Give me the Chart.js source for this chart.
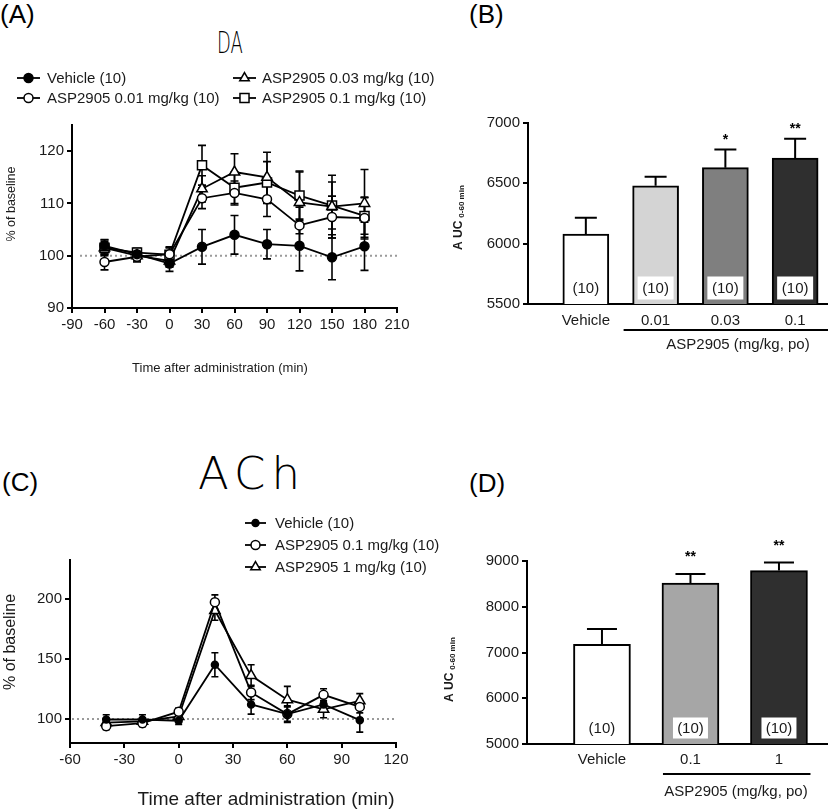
<!DOCTYPE html>
<html><head><meta charset="utf-8">
<script src="https://cdn.jsdelivr.net/npm/chart.js@4.4.1/dist/chart.umd.min.js"></script>
<style>
html,body{margin:0;padding:0;background:#fff;width:828px;height:809px;overflow:hidden;position:relative}
canvas{position:absolute;left:0;top:0}
.lbl{position:absolute;font-family:"Liberation Sans",Arial,sans-serif;font-size:26px;color:#000;line-height:26px;white-space:nowrap}
.hand{position:absolute;font-family:"DejaVu Sans",sans-serif;font-weight:200;color:#000;white-space:nowrap;transform-origin:left top}
</style></head><body>
<div class="lbl" style="left:0;top:1px">(A)</div>
<div class="lbl" style="left:469px;top:1px">(B)</div>
<div class="lbl" style="left:2px;top:469px">(C)</div>
<div class="lbl" style="left:469px;top:470px">(D)</div>
<div class="hand" style="left:217px;top:28px;font-size:30px;line-height:30px;transform:scaleX(0.6)">DA</div>
<div class="hand" style="left:198px;top:451px;font-size:45px;line-height:45px;letter-spacing:6px">ACh</div>
<canvas id="cA" width="828" height="809"></canvas>
<canvas id="cB" width="828" height="809"></canvas>
<canvas id="cC" width="828" height="809"></canvas>
<canvas id="cD" width="828" height="809"></canvas>
<script>
// ---------- Panel A (DA) ----------
const timesA = [-60, -30, 0, 30, 60, 90, 120, 150, 180];
const vehA   = [101.9, 100.3, 98.5, 101.7, 104.0, 102.2, 101.9, 99.7, 101.8];
const vehAErr= [1.2, 1.0, 1.5, 3.3, 3.7, 2.8, 4.8, 4.3, 4.6];
const d001A  = [98.8, 99.8, 100.3, 111.0, 112.0, 110.8, 105.8, 107.4, 107.2];
const d001AErr=[1.5, 1.0, 1.2, 2.0, 2.3, 3.3, 3.5, 4.0, 4.0];
const d003A  = [101.5, 100.0, 99.0, 112.8, 116.0, 115.0, 110.2, 109.4, 110.0];
const d003AErr=[1.2, 1.0, 1.2, 2.5, 3.5, 4.8, 6.0, 6.0, 6.5];
const d01A   = [101.5, 100.6, 100.2, 117.3, 113.0, 114.0, 111.5, 109.6, 107.6];
const d01AErr= [1.5, 0.8, 1.5, 3.8, 3.0, 4.0, 4.5, 4.5, 3.5];
const xTicksA = [-90, -60, -30, 0, 30, 60, 90, 120, 150, 180, 210];
const yTicksA = [90, 100, 110, 120];
const legendA = ['Vehicle (10)', 'ASP2905 0.01 mg/kg (10)', 'ASP2905 0.03 mg/kg (10)', 'ASP2905 0.1 mg/kg (10)'];

// ---------- Panel B (DA AUC) ----------
const groupsB = ['Vehicle', '0.01', '0.03', '0.1'];
const aucB    = [6080, 6480, 6630, 6710];
const aucBErr = [135, 75, 150, 160];
const nB      = ['(10)', '(10)', '(10)', '(10)'];
const starsB  = ['', '', '*', '**'];
const yTicksB = [5500, 6000, 6500, 7000];

// ---------- Panel C (ACh) ----------
const timesC = [-40, -20, 0, 20, 40, 60, 80, 100];
const vehC    = [99.5, 99.5, 98.5, 145, 112, 104, 112, 99];
const vehCErr = [4, 4, 3, 10, 8, 7, 5, 10];
const d01C    = [94, 96.5, 106, 197, 122, 104, 120, 110];
const d01CErr = [3, 3, 3, 6, 6, 6, 5, 5];
const d1C     = [97, 98, 102, 190, 136, 116, 108, 115];
const d1CErr  = [3, 3, 3, 8, 9, 11, 7, 6];
const xTicksC = [-60, -30, 0, 30, 60, 90, 120];
const yTicksC = [100, 150, 200];
const legendC = ['Vehicle (10)', 'ASP2905 0.1 mg/kg (10)', 'ASP2905 1 mg/kg (10)'];

// ---------- Panel D (ACh AUC) ----------
const groupsD = ['Vehicle', '0.1', '1'];
const aucD    = [7180, 8520, 8790];
const aucDErr = [335, 195, 175];
const nD      = ['(10)', '(10)', '(10)'];
const starsD  = ['', '**', '**'];
const yTicksD = [5000, 6000, 7000, 8000, 9000];

const groupTitle = 'ASP2905 (mg/kg, po)';
const FONT = '"Liberation Sans", Arial, sans-serif';
const W = 828, H = 809;

function marker(ctx, style, x, y, r, fill) {
  ctx.save();
  ctx.beginPath();
  if (style === 'circle') ctx.arc(x, y, r, 0, Math.PI * 2);
  else if (style === 'rect') { const s = r * Math.SQRT1_2; ctx.rect(x - s, y - s, 2 * s, 2 * s); }
  else if (style === 'triangle') {
    let a = 0;
    ctx.moveTo(x + Math.sin(a) * r, y - Math.cos(a) * r); a += 2 * Math.PI / 3;
    ctx.lineTo(x + Math.sin(a) * r, y - Math.cos(a) * r); a += 2 * Math.PI / 3;
    ctx.lineTo(x + Math.sin(a) * r, y - Math.cos(a) * r);
    ctx.closePath();
  }
  ctx.fillStyle = fill; ctx.fill();
  ctx.lineWidth = 1.5; ctx.strokeStyle = '#000'; ctx.stroke();
  ctx.restore();
}

function axis(vals, min, max, fit, fontSize) {
  return {
    type: 'linear', min: min, max: max, offset: false,
    afterBuildTicks: s => { s.ticks = vals.map(v => ({ value: v })); },
    afterFit: fit,
    border: { display: true, color: '#000', width: 2 },
    grid: { display: true, drawOnChartArea: false, drawTicks: true, tickLength: 5, color: '#000', lineWidth: 2 },
    ticks: { color: '#1a1a1a', font: { family: FONT, size: fontSize }, padding: 3, autoSkip: false, maxRotation: 0,
             callback: v => String(v) }
  };
}

function lineDs(times, vals, style, fill, r) {
  return {
    data: times.map((t, i) => ({ x: t, y: vals[i] })),
    borderColor: '#000', borderWidth: 1.8, tension: 0,
    pointStyle: style, pointRadius: r, pointBackgroundColor: fill,
    pointBorderColor: '#000', pointBorderWidth: 1.5
  };
}

function linePlugin(cfg) {
  return {
    id: 'lp',
    beforeDatasetsDraw(chart) {
      const ctx = chart.ctx, xs = chart.scales.x, ys = chart.scales.y, ca = chart.chartArea;
      ctx.save();
      ctx.strokeStyle = '#9a9a9a'; ctx.lineWidth = 2; ctx.setLineDash([2, 3]);
      const yb = ys.getPixelForValue(100);
      ctx.beginPath(); ctx.moveTo(ca.left + cfg.dotStart, yb); ctx.lineTo(ca.right, yb); ctx.stroke();
      ctx.restore();
      ctx.save(); ctx.strokeStyle = '#000'; ctx.lineWidth = 1.6;
      chart.data.datasets.forEach((d, di) => {
        const errs = cfg.errs[di];
        d.data.forEach((p, i) => {
          const x = xs.getPixelForValue(p.x);
          const y1 = ys.getPixelForValue(p.y + errs[i]), y2 = ys.getPixelForValue(p.y - errs[i]);
          ctx.beginPath();
          ctx.moveTo(x, y1); ctx.lineTo(x, y2);
          ctx.moveTo(x - cfg.cap / 2, y1); ctx.lineTo(x + cfg.cap / 2, y1);
          ctx.moveTo(x - cfg.cap / 2, y2); ctx.lineTo(x + cfg.cap / 2, y2);
          ctx.stroke();
        });
      });
      ctx.restore();
    },
    afterDraw(chart) {
      const ctx = chart.ctx;
      ctx.save();
      ctx.fillStyle = '#1a1a1a';
      ctx.font = cfg.legendFont + 'px ' + FONT;
      ctx.textBaseline = 'middle'; ctx.textAlign = 'left';
      cfg.legend.forEach(it => {
        ctx.strokeStyle = '#000'; ctx.lineWidth = 1.8;
        ctx.beginPath(); ctx.moveTo(it.x0, it.y); ctx.lineTo(it.x1, it.y); ctx.stroke();
        marker(ctx, it.style, (it.x0 + it.x1) / 2, it.y, it.r, it.fill);
        ctx.fillStyle = '#1a1a1a';
        ctx.fillText(it.text, it.tx, it.y + 1);
      });
      ctx.textAlign = 'center';
      ctx.font = cfg.xTitleFont + 'px ' + FONT;
      ctx.fillText('Time after administration (min)', cfg.xTitleX, cfg.xTitleY);
      ctx.translate(cfg.yTitleX, cfg.yTitleY); ctx.rotate(-Math.PI / 2);
      ctx.font = cfg.yTitleFont + 'px ' + FONT;
      ctx.fillText('% of baseline', 0, 0);
      ctx.restore();
    }
  };
}

function barPlugin(cfg) {
  return {
    id: 'bp',
    afterDatasetsDraw(chart) {
      const ctx = chart.ctx, xs = chart.scales.x, ys = chart.scales.y;
      ctx.save();
      cfg.vals.forEach((v, i) => {
        const cx = xs.getPixelForValue(i);
        const top = ys.getPixelForValue(v), et = ys.getPixelForValue(v + cfg.errs[i]);
        ctx.strokeStyle = '#000'; ctx.lineWidth = 2;
        ctx.beginPath();
        ctx.moveTo(cx, top); ctx.lineTo(cx, et);
        ctx.moveTo(cx - cfg.cap / 2, et); ctx.lineTo(cx + cfg.cap / 2, et);
        ctx.stroke();
        if (cfg.stars[i]) {
          ctx.fillStyle = '#000'; ctx.font = 'bold 14px ' + FONT;
          ctx.textAlign = 'center'; ctx.textBaseline = 'alphabetic';
          ctx.fillText(cfg.stars[i], cx, et - cfg.starGap);
        }
        const ny = ys.bottom - 16;
        if (i > 0) {
          ctx.fillStyle = '#fff';
          ctx.fillRect(cx - cfg.boxW / 2, ny - cfg.boxH / 2, cfg.boxW, cfg.boxH);
        }
        ctx.fillStyle = '#1a1a1a'; ctx.font = '15px ' + FONT;
        ctx.textAlign = 'center'; ctx.textBaseline = 'middle';
        ctx.fillText(cfg.ns[i], cx, ny + 1);
      });
      const x0 = xs.getPixelForValue(1) - cfg.barW / 2 + cfg.lineL;
      const x1 = Math.min(xs.getPixelForValue(cfg.vals.length - 1) + cfg.barW / 2 + cfg.lineR, W);
      const ly = ys.bottom + cfg.lineDy;
      ctx.strokeStyle = '#000'; ctx.lineWidth = 2;
      ctx.beginPath(); ctx.moveTo(x0, ly); ctx.lineTo(x1, ly); ctx.stroke();
      ctx.fillStyle = '#1a1a1a'; ctx.font = '15px ' + FONT;
      ctx.textAlign = 'center'; ctx.textBaseline = 'middle';
      ctx.fillText(groupTitle, cfg.textX, ly + cfg.textDy);
      ctx.translate(cfg.yTitleX, cfg.yTitleBottom); ctx.rotate(-Math.PI / 2);
      ctx.textAlign = 'left'; ctx.textBaseline = 'middle';
      ctx.font = 'bold 12px ' + FONT;
      ctx.fillText('A UC', 0, 0);
      const w = ctx.measureText('A UC').width;
      ctx.font = 'bold 8px ' + FONT;
      ctx.fillText('0-60 min', w + 3, 3);
      ctx.restore();
    }
  };
}

const baseOpts = (pad) => ({
  responsive: false, animation: false, events: [],
  layout: { padding: pad },
  plugins: { legend: { display: false }, tooltip: { enabled: false } }
});

// ---- Chart A ----
(function () {
  const o = baseOpts({ left: 0, top: 125, right: W - 397, bottom: 0 });
  o.scales = {
    x: axis(xTicksA, -90, 210, s => { s.height = H - 308; }, 15),
    y: axis(yTicksA, 90, 125, s => { s.width = 72; }, 15)
  };
  new Chart(document.getElementById('cA'), {
    type: 'line',
    data: { datasets: [
      lineDs(timesA, vehA, 'circle', '#000', 4.5),
      lineDs(timesA, d001A, 'circle', '#fff', 4.5),
      lineDs(timesA, d003A, 'triangle', '#fff', 6),
      lineDs(timesA, d01A, 'rect', '#fff', 6.4)
    ] },
    options: o,
    plugins: [linePlugin({
      errs: [vehAErr, d001AErr, d003AErr, d01AErr], cap: 8, dotStart: 8,
      legendFont: 15,
      legend: [
        { text: legendA[0], style: 'circle', fill: '#000', r: 4.5, x0: 17, x1: 40, tx: 47, y: 78 },
        { text: legendA[1], style: 'circle', fill: '#fff', r: 4.5, x0: 17, x1: 40, tx: 47, y: 98 },
        { text: legendA[2], style: 'triangle', fill: '#fff', r: 5.5, x0: 233, x1: 256, tx: 262, y: 78 },
        { text: legendA[3], style: 'rect', fill: '#fff', r: 6.4, x0: 233, x1: 256, tx: 262, y: 98 }
      ],
      xTitleFont: 13, xTitleX: 220, xTitleY: 368,
      yTitleFont: 12.5, yTitleX: 12, yTitleY: 204
    })]
  });
})();

// ---- Chart C ----
(function () {
  const o = baseOpts({ left: 0, top: 560, right: W - 396, bottom: 0 });
  o.scales = {
    x: axis(xTicksC, -60, 120, s => { s.height = H - 743; }, 15),
    y: axis(yTicksC, 80, 232, s => { s.width = 70; }, 15)
  };
  new Chart(document.getElementById('cC'), {
    type: 'line',
    data: { datasets: [
      lineDs(timesC, vehC, 'circle', '#000', 3.5),
      lineDs(timesC, d01C, 'circle', '#fff', 4.5),
      lineDs(timesC, d1C, 'triangle', '#fff', 6)
    ] },
    options: o,
    plugins: [linePlugin({
      errs: [vehCErr, d01CErr, d1CErr], cap: 7, dotStart: 2,
      legendFont: 15,
      legend: [
        { text: legendC[0], style: 'circle', fill: '#000', r: 3.5, x0: 245, x1: 266, tx: 275, y: 523 },
        { text: legendC[1], style: 'circle', fill: '#fff', r: 4.5, x0: 245, x1: 266, tx: 275, y: 545 },
        { text: legendC[2], style: 'triangle', fill: '#fff', r: 5.5, x0: 245, x1: 266, tx: 275, y: 567 }
      ],
      xTitleFont: 19, xTitleX: 266, xTitleY: 800,
      yTitleFont: 16, yTitleX: 11, yTitleY: 642
    })]
  });
})();

// ---- Bar chart helper ----
function barChart(id, groups, vals, errs, ns, stars, yTicks, ymin, ymax, colors, geo) {
  const o = baseOpts({ left: 0, top: geo.top, right: 0, bottom: 0 });
  o.scales = {
    x: {
      type: 'linear', min: geo.xmin, max: geo.xmax, offset: false,
      afterBuildTicks: s => { s.ticks = groups.map((g, i) => ({ value: i })); },
      afterFit: s => { s.height = H - geo.bottom; },
      border: { display: true, color: '#000', width: 2 },
      grid: { display: false, drawTicks: false },
      ticks: { color: '#1a1a1a', font: { family: FONT, size: 15 }, padding: geo.xPad, autoSkip: false, maxRotation: 0,
               callback: (v, i) => groups[i] }
    },
    y: axis(yTicks, ymin, ymax, s => { s.width = geo.left; }, 15)
  };
  new Chart(document.getElementById(id), {
    type: 'bar',
    data: { datasets: [{
      data: groups.map((g, i) => ({ x: i, y: vals[i] })),
      backgroundColor: colors, borderColor: '#000', borderWidth: 2,
      barThickness: geo.barW
    }] },
    options: o,
    plugins: [barPlugin({
      vals: vals, errs: errs, ns: ns, stars: stars, cap: geo.cap, barW: geo.barW,
      starGap: geo.starGap, boxW: geo.boxW, boxH: geo.boxH,
      lineL: geo.lineL, lineR: geo.lineR, lineDy: geo.lineDy, textX: geo.textX, textDy: geo.textDy,
      yTitleX: geo.yTitleX, yTitleBottom: geo.yTitleBottom
    })]
  });
}

barChart('cB', groupsB, aucB, aucBErr, nB, starsB, yTicksB, 5500, 7000,
  ['#ffffff', '#d4d4d4', '#7f7f7f', '#2f2f2f'],
  { top: 123, bottom: 304, left: 528, xmin: -0.829, xmax: 3.471, barW: 46, cap: 22, xPad: 8,
    starGap: 6, boxW: 36, boxH: 23, lineL: -9, lineR: 20, lineDy: 26, textX: 738, textDy: 15,
    yTitleX: 459, yTitleBottom: 250 });

barChart('cD', groupsD, aucD, aucDErr, nD, starsD, yTicksD, 5000, 9000,
  ['#ffffff', '#a6a6a6', '#2f2f2f'],
  { top: 561, bottom: 744, left: 527, xmin: -0.847, xmax: 2.554, barW: 57, cap: 30, xPad: 7,
    starGap: 13, boxW: 35, boxH: 21, lineL: 1, lineR: 3, lineDy: 30, textX: 736, textDy: 18,
    yTitleX: 450, yTitleBottom: 702 });
</script>
</body></html>
